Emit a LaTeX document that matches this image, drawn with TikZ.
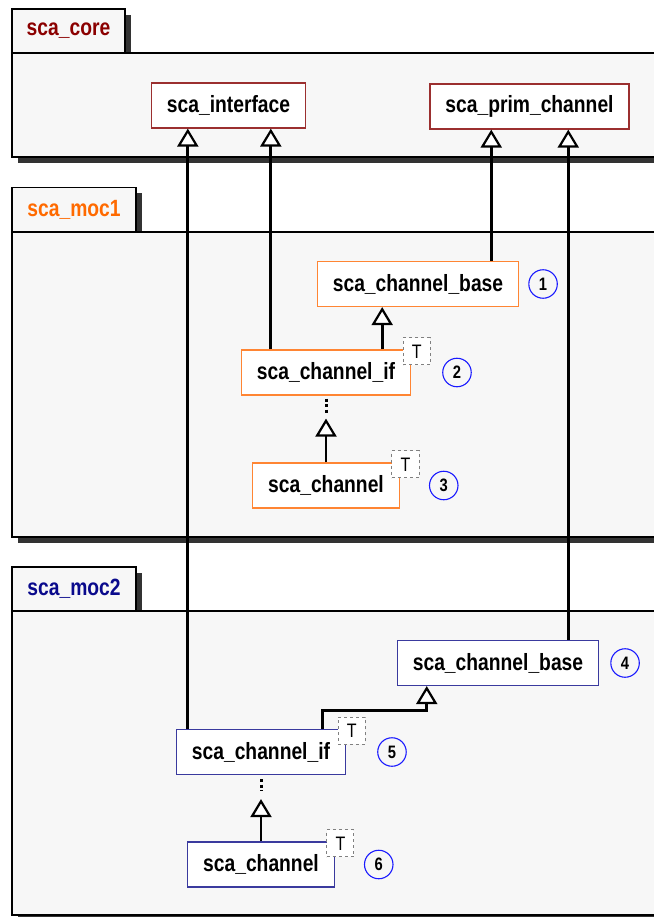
\documentclass[tikz,border=0pt]{standalone}
\usepackage{fontspec}
\setmainfont{Liberation Sans}[FakeStretch=0.82]
\usepackage{xcolor}
\usetikzlibrary{arrows.meta,positioning,calc}
\definecolor{corered}{HTML}{8B0000}
\definecolor{coreline}{HTML}{9B2F2F}
\definecolor{mocorange}{HTML}{FF6A00}
\definecolor{orangeline}{HTML}{FF8533}
\definecolor{mocnavy}{HTML}{0A0A8C}
\definecolor{navyline}{HTML}{3A3A9E}
\definecolor{pkgfill}{HTML}{F7F7F7}
\definecolor{shadowgray}{HTML}{333333}
\definecolor{numblue}{HTML}{1A1AFF}

\begin{document}
\begin{tikzpicture}[
  x=1pt,y=-1pt,
  font=\bfseries\fontsize{23.5}{28}\selectfont,
  pkg/.style={draw=black,line width=1.6pt,fill=pkgfill},
  pkgshadow/.style={fill=shadowgray},
  tab/.style={pkg,minimum height=44pt,inner sep=0pt},
  cls/.style={fill=white,line width=1.2pt,inner xsep=15.5pt,inner ysep=0pt,minimum height=45pt},
  tbox/.style={draw=gray,dashed,line width=0.9pt,fill=white,minimum size=27pt,inner sep=0pt,font=\mdseries\fontsize{19.5}{22}\selectfont},
  num/.style={circle,draw=numblue,line width=1.1pt,minimum size=28.5pt,inner sep=0pt,font=\bfseries\fontsize{18}{20}\selectfont},
  inh/.style={draw,line width=2.8pt,-{Triangle[length=18pt,width=21pt,fill=white,line width=2.2pt]}},
  dots/.style={line width=3pt,dash pattern=on 3pt off 2.5pt}
]
\useasboundingbox (0,0) rectangle (653,917);
% packages
\fill[pkgshadow] (18,15) rectangle (131,59);
\fill[pkgshadow] (18,59) rectangle (676,163);
\draw[pkg] (12,53) rectangle (670,157);
\node[tab,minimum width=113pt,text=corered] (core) at (68.5,31) {sca\_core};
\fill[pkgshadow] (18,193) rectangle (142,238);
\fill[pkgshadow] (18,238) rectangle (676,543);
\draw[pkg] (12,232) rectangle (670,537);
\node[tab,minimum width=124pt,text=mocorange] (moc1) at (74,209.5) {sca\_moc1};
\fill[pkgshadow] (18,573) rectangle (142,617);
\fill[pkgshadow] (18,617) rectangle (676,921);
\draw[pkg] (12,611) rectangle (670,915);
\node[tab,minimum width=124pt,text=mocnavy] (moc2) at (74,589) {sca\_moc2};
% classes
\node[cls,draw=coreline] (iface) at (228.5,105.5) {sca\_interface};
\node[cls,draw=coreline] (prim) at (529.5,106.5) {sca\_prim\_channel};
\node[cls,draw=orangeline] (base1) at (418,284) {sca\_channel\_base};
\node[cls,draw=orangeline] (if1) at (326,372.5) {sca\_channel\_if};
\node[cls,draw=orangeline] (ch1) at (326,485.5) {sca\_channel};
\node[cls,draw=navyline] (base2) at (498,663) {sca\_channel\_base};
\node[cls,draw=navyline] (if2) at (261,752) {sca\_channel\_if};
\node[cls,draw=navyline] (ch2) at (261,864.5) {sca\_channel};
% template marks
\node[tbox] (t1) at ([xshift=5.5pt,yshift=-2pt]if1.north east) {T};
\node[tbox] (t2) at ([xshift=5.5pt,yshift=-2pt]ch1.north east) {T};
\node[tbox] (t3) at ([xshift=5.5pt,yshift=-2pt]if2.north east) {T};
\node[tbox] (t4) at ([xshift=5.5pt,yshift=-2pt]ch2.north east) {T};
% numbers
\node[num,right=9pt of base1] (n1) {1};
\node[num,right=31pt of if1] (n2) {2};
\node[num,right=29pt of ch1] (n3) {3};
\node[num,right=11pt of base2] (n4) {4};
\node[num,right=31pt of if2] (n5) {5};
\node[num,right=29pt of ch2] (n6) {6};
% inheritance
\draw[inh] ([xshift=12pt]if2.north west) -- ([xshift=12pt]if2.north west |- iface.south);
\draw[inh] ([xshift=30pt]if1.north west) -- ([xshift=30pt]if1.north west |- iface.south);
\draw[inh] ([xshift=-28pt]base1.north east) -- ([xshift=-28pt]base1.north east |- prim.south);
\draw[inh] ([xshift=-31pt]base2.north east) -- ([xshift=-31pt]base2.north east |- prim.south);
\draw[inh] ([xshift=-29pt]if1.north east) -- ([xshift=-29pt]if1.north east |- base1.south);
\draw[inh] ([xshift=-24pt]if2.north east) |- ([xshift=30pt,yshift=-24pt]base2.south west) -- ([xshift=30pt]base2.south west);
\coordinate (tip1) at ([yshift=-23pt]if1.south);
\coordinate (tip2) at ([yshift=-24pt]if2.south);
\draw[inh] (ch1.north) -- (tip1);
\draw[inh] (ch2.north) -- (tip2);
\draw[dots] ([yshift=-3pt]if1.south) -- ([yshift=-17pt]if1.south);
\draw[dots] ([yshift=-4pt]if2.south) -- ([yshift=-16pt]if2.south);
\end{tikzpicture}
\end{document}
